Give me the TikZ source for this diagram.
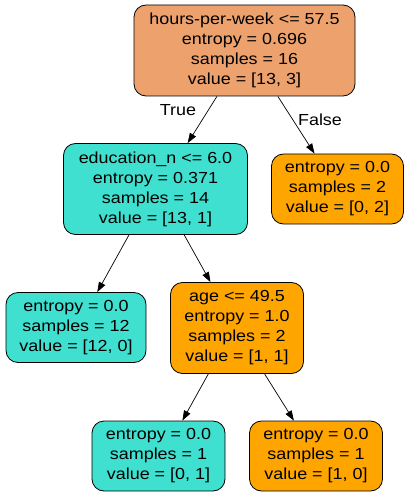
\documentclass[tikz,border=0pt]{standalone}
\usepackage{fontspec}
\setmainfont{Liberation Sans}[FakeStretch=1.12]
\usepackage{tikz}
\usetikzlibrary{arrows.meta, positioning}
\definecolor{rootfill}{RGB}{237,161,108}
\definecolor{leftfill}{RGB}{64,224,208}
\definecolor{rightfill}{RGB}{255,165,0}

\tikzset{
	box/.style={draw, rounded corners=12pt, align=center, inner sep=0pt, line width=0.8pt,
		font=\fontsize{16}{20}\selectfont},
	split/.style={box, minimum height=91pt},
	leaf/.style={box, minimum height=70pt},
	edge/.style={-{Triangle[length=10pt,width=7pt]}, line width=0.7pt},
	tag/.style={font=\fontsize{16}{20}\selectfont},
}

\begin{document}
\begin{tikzpicture}[on grid]
		\useasboundingbox (0,0) rectangle (410pt,-497pt);
		\node [split, fill=rootfill, minimum width=221pt] (a) at (244.5pt,-50.5pt)
			{hours-per-week <= 57.5\\entropy = 0.696\\samples = 16\\value = [13, 3]};
		\node [below left = 138.5pt and 89pt of a, split, fill=leftfill, minimum width=184pt] (b1)
			{education\_n <= 6.0\\entropy = 0.371\\samples = 14\\value = [13, 1]};
		\node [below right = 138.5pt and 93pt of a, leaf, fill=rightfill, minimum width=132pt] (b2)
			{entropy = 0.0\\samples = 2\\value = [0, 2]};
		\node [below left = 138.5pt and 79.5pt of b1, leaf, fill=leftfill, minimum width=140pt] (c1)
			{entropy = 0.0\\samples = 12\\value = [12, 0]};
		\node [below right = 139pt and 81.5pt of b1, split, fill=rightfill, minimum width=133pt] (c2)
			{age <= 49.5\\entropy = 1.0\\samples = 2\\value = [1, 1]};
		\node [below left = 128pt and 78.5pt of c2, leaf, fill=leftfill, minimum width=133pt] (d1)
			{entropy = 0.0\\samples = 1\\value = [0, 1]};
		\node [below right = 128pt and 79pt of c2, leaf, fill=rightfill, minimum width=133pt] (d2)
			{entropy = 0.0\\samples = 1\\value = [1, 0]};
		\node [below left = 59.5pt and 66.5pt of a, tag] (t) {True};
		\node [below right = 69.5pt and 75.5pt of a, tag] (f) {False};

		\draw [edge] (a.239) -- (b1.55);
		\draw [edge] (a.306) -- (b2.123);
		\draw [edge] (b1.240) -- (c1.59);
		\draw [edge] (b1.302) -- (c2.120);
		\draw [edge] (c2.238) -- (d1.56);
		\draw [edge] (c2.301) -- (d2.122);
\end{tikzpicture}
\end{document}
